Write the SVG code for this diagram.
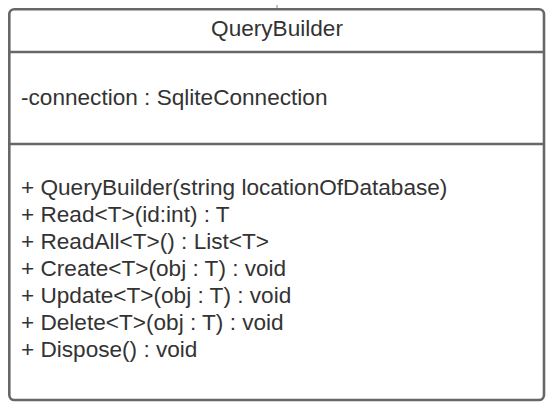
<svg xmlns="http://www.w3.org/2000/svg" width="556" height="409" viewBox="0 0 556 409">
<style>
.box{fill:#fff;stroke:#676767;stroke-width:2.6}
.div{stroke:#676767;stroke-width:2.6;fill:none}
text{font-family:"Liberation Sans",Arial,sans-serif;font-size:22.6px;fill:#333}
</style>
<rect width="556" height="409" fill="#fff"/>
<g id="connectors">
<line x1="277" y1="5" x2="277" y2="8.5" stroke="#888" stroke-width="1"/>
</g>
<g id="QueryBuilder">
<rect class="box" x="9.3" y="9.3" width="534.7" height="390.7" rx="5"/>
<line class="div" x1="9.3" y1="52" x2="544" y2="52"/>
<line class="div" x1="9.3" y1="144" x2="544" y2="144"/>
<text x="277" y="36" text-anchor="middle">QueryBuilder</text>
<text x="21" y="104.5">-connection : SqliteConnection</text>
<text x="21" y="195">+ QueryBuilder(string locationOfDatabase)</text>
<text x="21" y="222">+ Read&lt;T&gt;(id:int) : T</text>
<text x="21" y="249">+ ReadAll&lt;T&gt;() : List&lt;T&gt;</text>
<text x="21" y="276">+ Create&lt;T&gt;(obj : T) : void</text>
<text x="21" y="303">+ Update&lt;T&gt;(obj : T) : void</text>
<text x="21" y="330">+ Delete&lt;T&gt;(obj : T) : void</text>
<text x="21" y="357">+ Dispose() : void</text>
</g>
</svg>
